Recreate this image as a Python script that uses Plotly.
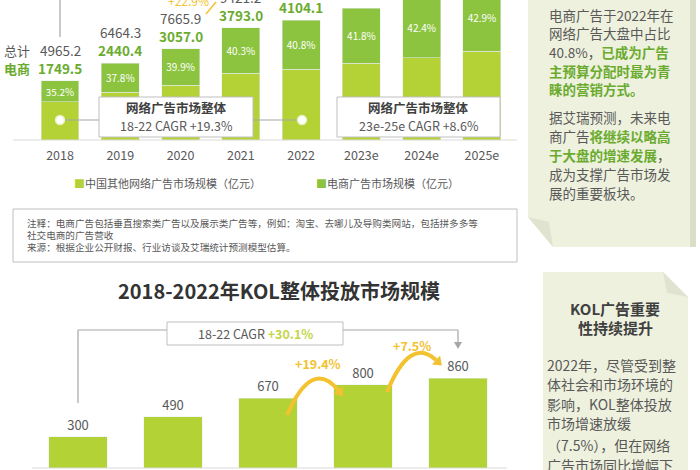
import math
import plotly.graph_objects as go

# ---------------- data ----------------
years = ["2018", "2019", "2020", "2021", "2022", "2023e", "2024e", "2025e"]
total_market = [4965.2, 6464.3, 7665.9, 9421.2, 10059.1, 11080.0, 12030.0, 13070.0]
ecom_market = [1749.5, 2440.4, 3057.0, 3793.0, 4104.1, 4631.4, 5100.7, 5607.0]
ecom_share = ["35.2%", "37.8%", "39.9%", "40.3%", "40.8%", "41.8%", "42.4%", "42.9%"]
other_market = [round(t - e, 1) for t, e in zip(total_market, ecom_market)]

kol_years = ["2018", "2019", "2020", "2021", "2022"]
kol_values = [300, 490, 670, 800, 860]

W, H = 700, 470
FONT = "Noto Sans CJK SC"
GRAY = "#595959"
DARK = "#404040"
GREEN_TXT = "#6aab2e"
C_OTHER = "#b4d236"
C_ECOM = "#8cc43f"
C_KOL = "#b2d235"
GOLD = "#f2c230"
PANEL = "#eef1de"


def px(x):
    return x / W


def py(y):
    return 1 - y / H


fig = go.Figure()

# top stacked chart
fig.add_trace(go.Bar(x=years, y=other_market, marker_color=C_OTHER, name="中国其他网络广告市场规模（亿元）",
                     xaxis="x", yaxis="y", hoverinfo="skip"))
fig.add_trace(go.Bar(x=years, y=ecom_market, marker_color=C_ECOM, name="电商广告市场规模（亿元）",
                     text=ecom_share, textposition="inside", insidetextanchor="middle",
                     textfont=dict(color="white", size=10, family=FONT), textangle=0,
                     xaxis="x", yaxis="y", hoverinfo="skip"))

# bottom KOL chart
fig.add_trace(go.Bar(x=kol_years, y=kol_values, marker_color=C_KOL, text=[str(v) for v in kol_values],
                     textposition="outside", textfont=dict(color=GRAY, size=13, family=FONT),
                     cliponaxis=False, xaxis="x2", yaxis="y2", hoverinfo="skip", width=0.62))

shapes = []
annotations = []


def line(x0, y0, x1, y1, color="#a6a6a6", width=1.2):
    shapes.append(dict(type="line", xref="paper", yref="paper", x0=px(x0), y0=py(y0), x1=px(x1), y1=py(y1),
                       line=dict(color=color, width=width), layer="above"))


def rect(x0, y0, x1, y1, fill="white", lc="#bfbfbf", lw=1.0, layer="above"):
    shapes.append(dict(type="rect", xref="paper", yref="paper", x0=px(x0), y0=py(y0), x1=px(x1), y1=py(y1),
                       fillcolor=fill, line=dict(color=lc, width=lw), layer=layer))


def poly(points, fill, lc=None, lw=0, layer="below"):
    d = "M " + " L ".join(f"{px(x):.5f},{py(y):.5f}" for x, y in points) + " Z"
    shapes.append(dict(type="path", xref="paper", yref="paper", path=d, fillcolor=fill,
                       line=dict(color=lc or fill, width=lw), layer=layer))


def text(x, y, s, size=12, color=GRAY, anchor="center", bold=False):
    if bold:
        s = f"<b>{s}</b>"
    annotations.append(dict(xref="paper", yref="paper", x=px(x), y=py(y), text=s, showarrow=False,
                            xanchor=anchor, yanchor="middle", font=dict(size=size, color=color, family=FONT)))


# ---- right-side panels ----
poly([(528, 0), (690, 0), (690, 247), (553, 247), (528, 217)], PANEL)
poly([(690, 0), (696, 0), (696, 247), (690, 247)], "#dadfca")
poly([(528, 217), (553, 247), (549, 222)], "#dfe3cf")
poly([(543, 272), (663, 272), (688, 297), (688, 470), (543, 470)], PANEL)
poly([(663, 272), (688, 297), (667, 293)], "#dfe3cf")

g = lambda s: f"<span style='color:{GREEN_TXT}'><b>{s}</b></span>"
p1_lines = [
    "电商广告于2022年在",
    "网络广告大盘中占比",
    "40.8%，" + g("已成为广告"),
    g("主预算分配时最为青"),
    g("睐的营销方式。"),
    "据艾瑞预测，未来电",
    "商广告" + g("将继续以略高"),
    g("于大盘的增速发展") + "，",
    "成为支撑广告市场发",
    "展的重要板块。",
]
p1_y = [15, 33.5, 52, 70.5, 89, 117, 136, 155, 174, 193]
for s, yy in zip(p1_lines, p1_y):
    text(547, yy, s, size=13.5, color=GRAY, anchor="left")

text(615, 308, "KOL广告重要", size=15, color=DARK, bold=True)
text(615, 327, "性持续提升", size=15, color=DARK, bold=True)
p2_lines = ["2022年，尽管受到整", "体社会和市场环境的", "影响，KOL整体投放", "市场增速放缓",
            "（7.5%），但在网络", "广告市场同比增幅下"]
p2_y = [365, 384, 404, 423, 445, 465]
for s, yy in zip(p2_lines, p2_y):
    text(545, yy, s, size=14, color=GRAY, anchor="left")

# ---- top chart decorations ----
line(13, 140, 517, 140, color="#d9d9d9", width=1)
line(60, 0, 60, 37)
text(17, 50, "总计", size=13, color=GRAY)
text(17, 68, "电商", size=13, color=GREEN_TXT, bold=True)
text(188, 1, "+22.9%", size=12, color=GOLD)
line(206, 14, 216, 2, color=GOLD, width=1.5)

for i in range(5):
    annotations.append(dict(xref="x", yref="y", x=i, y=total_market[i], yshift=31, showarrow=False,
                            text=f"{total_market[i]:.1f}", yanchor="middle",
                            font=dict(size=13.5, color=GRAY, family=FONT)))
    annotations.append(dict(xref="x", yref="y", x=i, y=total_market[i], yshift=13, showarrow=False,
                            text=f"<b>{ecom_market[i]:.1f}</b>", yanchor="middle",
                            font=dict(size=13.5, color=GREEN_TXT, family=FONT)))

# CAGR boxes with connectors
line(60, 120, 99, 120)
line(253, 120, 302, 120)
rect(99, 97, 253, 137)
rect(337, 97, 500, 137)
for cx in (60, 302):
    shapes.append(dict(type="circle", xref="paper", yref="paper", x0=px(cx - 4.5), x1=px(cx + 4.5),
                       y0=py(120 + 4.5), y1=py(120 - 4.5), fillcolor="white",
                       line=dict(color="#e8f0c0", width=1.5), layer="above"))
text(176, 107.5, "网络广告市场整体", size=12.5, color=DARK, bold=True)
text(176, 125.5, "18-22 CAGR +19.3%", size=12.5, color=GRAY)
text(418.5, 107.5, "网络广告市场整体", size=12.5, color=DARK, bold=True)
text(418.5, 125.5, "23e-25e CAGR +8.6%", size=12.5, color=GRAY)

# legend
text(72, 183, f"<span style='color:{C_OTHER}'>■</span>中国其他网络广告市场规模（亿元）", size=11, anchor="left")
text(314, 183, f"<span style='color:{C_ECOM}'>■</span>电商广告市场规模（亿元）", size=11, anchor="left")

# note box
rect(13, 209, 517, 262, fill="white", lc="#bfbfbf", lw=1)
text(25, 223, "注释：电商广告包括垂直搜索类广告以及展示类广告等，例如：淘宝、去哪儿及导购类网站，包括拼多多等",
     size=9.6, anchor="left")
text(25, 235, "社交电商的广告营收", size=9.6, anchor="left")
text(25, 247, "来源：根据企业公开财报、行业访谈及艾瑞统计预测模型估算。", size=9.6, anchor="left")

# ---- bottom chart decorations ----
text(279, 290, "2018-2022年KOL整体投放市场规模", size=20, color="#333333", bold=True)
line(32, 468, 507, 468, color="#d9d9d9", width=1)

line(78, 403, 78, 330)
line(78, 330, 167, 330)
line(343, 330, 458, 330)
line(458, 330, 458, 343)
poly([(454, 342), (462, 342), (458, 349)], "#a6a6a6", layer="above")
rect(167, 322, 343, 345)
text(255, 333.5, f"18-22 CAGR <span style='color:#c3d54a'><b>+30.1%</b></span>", size=12.5, color=GRAY)


def arc(p0, c, p1, label, lpos):
    d = (f"M {px(p0[0]):.5f},{py(p0[1]):.5f} Q {px(c[0]):.5f},{py(c[1]):.5f} "
         f"{px(p1[0]):.5f},{py(p1[1]):.5f}")
    shapes.append(dict(type="path", xref="paper", yref="paper", path=d,
                       line=dict(color=GOLD, width=4), layer="above"))
    dx, dy = p1[0] - c[0], p1[1] - c[1]
    n = math.hypot(dx, dy)
    ux, uy = dx / n, dy / n
    tip = (p1[0] + 8 * ux, p1[1] + 8 * uy)
    a = (p1[0] - 6 * uy, p1[1] + 6 * ux)
    b = (p1[0] + 6 * uy, p1[1] - 6 * ux)
    poly([a, tip, b], GOLD, layer="above")
    text(lpos[0], lpos[1], f"<b>{label}</b>", size=12.5, color=GOLD)


arc((287, 415), (312, 358), (338, 390), "+19.4%", (318, 363))
arc((387, 392), (410, 336), (436, 360), "+7.5%", (412, 345))

fig.update_layout(
    width=W, height=H, margin=dict(l=0, r=0, t=0, b=0),
    paper_bgcolor="white", plot_bgcolor="rgba(0,0,0,0)",
    barmode="stack", showlegend=False,
    font=dict(family=FONT, color=GRAY),
    xaxis=dict(type="category", domain=[29.86 / W, 512.1 / W], range=[-0.5, 7.5], anchor="y",
               showgrid=False, showline=False, zeroline=False, ticks="outside", ticklen=4,
               tickcolor="rgba(0,0,0,0)", tickfont=dict(size=12.5, color=GRAY, family=FONT)),
    yaxis=dict(domain=[py(140), 1], range=[0, 11760], visible=False, anchor="x"),
    xaxis2=dict(type="category", domain=[30.5 / W, 505.5 / W], range=[-0.5, 4.5], anchor="y2",
                visible=False),
    yaxis2=dict(domain=[py(468), py(300)], range=[0, 1613], visible=False, anchor="x2"),
    bargap=0.37,
    shapes=shapes,
    annotations=annotations,
)

fig.write_html("out.html")
